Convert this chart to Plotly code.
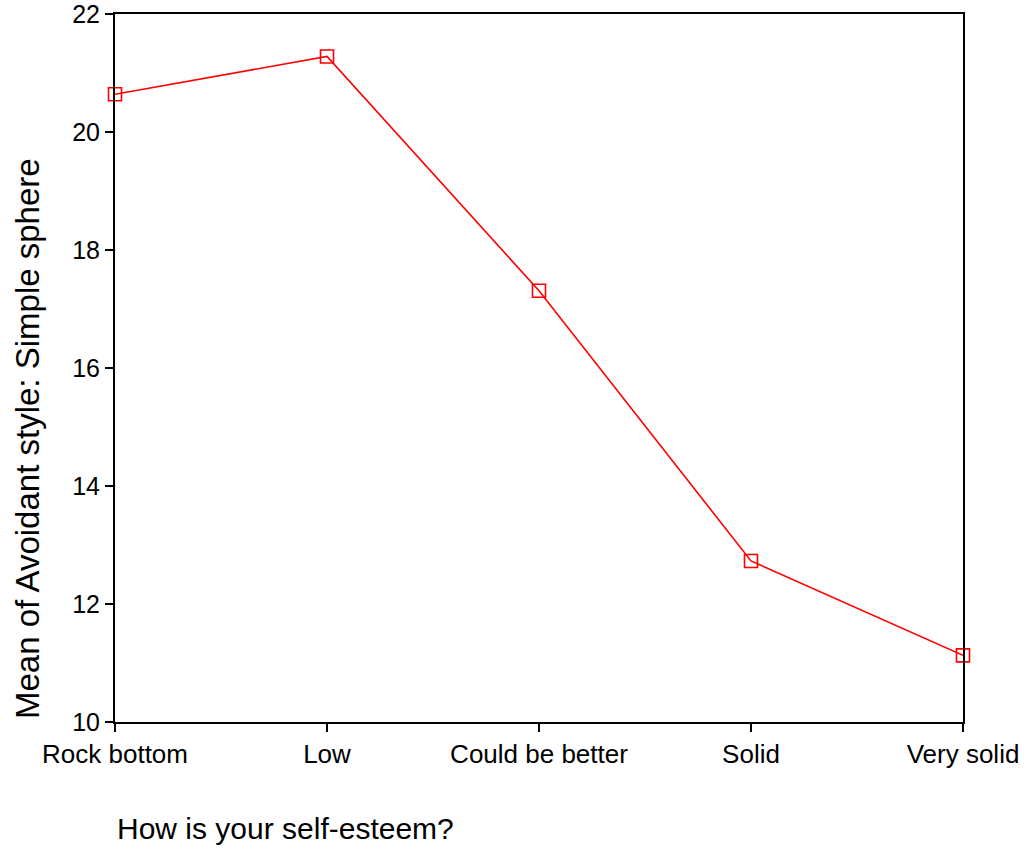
import plotly.graph_objects as go

categories = ["Rock bottom", "Low", "Could be better", "Solid", "Very solid"]
means = [20.64, 21.28, 17.31, 12.73, 11.13]
y_ticks = [10, 12, 14, 16, 18, 20, 22]
x_title = "How is your self-esteem?"
y_title = "Mean of Avoidant style: Simple sphere"

FONT = "Liberation Sans, Arial, sans-serif"

fig = go.Figure()
fig.add_trace(go.Scatter(
    x=list(range(len(categories))),
    y=means,
    mode="lines+markers",
    line=dict(color="#ff0000", width=1.6),
    marker=dict(symbol="square-open", size=13, color="#ff0000", line=dict(width=1.6, color="#ff0000")),
    cliponaxis=False,
    showlegend=False,
))

fig.update_layout(
    width=1028, height=850,
    margin=dict(l=115, r=65, t=14, b=128, autoexpand=False),
    paper_bgcolor="white", plot_bgcolor="white",
    font=dict(family=FONT, color="black", size=26),
    xaxis=dict(
        range=[0, len(categories) - 1],
        tickmode="array",
        tickvals=list(range(len(categories))),
        ticktext=categories,
        showgrid=False, zeroline=False, automargin=False,
        ticklabeloverflow="allow",
        showline=True, linecolor="black", linewidth=2, mirror=True,
        ticks="outside", ticklen=8, tickwidth=2, tickcolor="black",
        tickfont=dict(size=26, family=FONT),
    ),
    yaxis=dict(
        range=[10, 22],
        tickmode="array",
        tickvals=y_ticks,
        ticktext=[str(v) for v in y_ticks],
        showgrid=False, zeroline=False, automargin=False,
        ticklabeloverflow="allow",
        showline=True, linecolor="black", linewidth=2, mirror=True,
        ticks="outside", ticklen=8, tickwidth=2, tickcolor="black",
        tickfont=dict(size=25, family=FONT),
    ),
    annotations=[
        dict(text=x_title, xref="paper", yref="paper", x=0, y=-0.15,
             xanchor="left", yanchor="middle", showarrow=False,
             font=dict(size=30, family=FONT, color="black")),
        dict(text=y_title, xref="paper", yref="paper", x=-0.1038, y=0.401,
             xanchor="center", yanchor="middle", textangle=-90, showarrow=False,
             font=dict(size=33, family=FONT, color="black")),
    ],
)

fig.write_html(
    "out.html",
    config={"displayModeBar": False, "staticPlot": True},
    post_script="document.body.style.margin='0';document.body.style.overflow='hidden';",
)
